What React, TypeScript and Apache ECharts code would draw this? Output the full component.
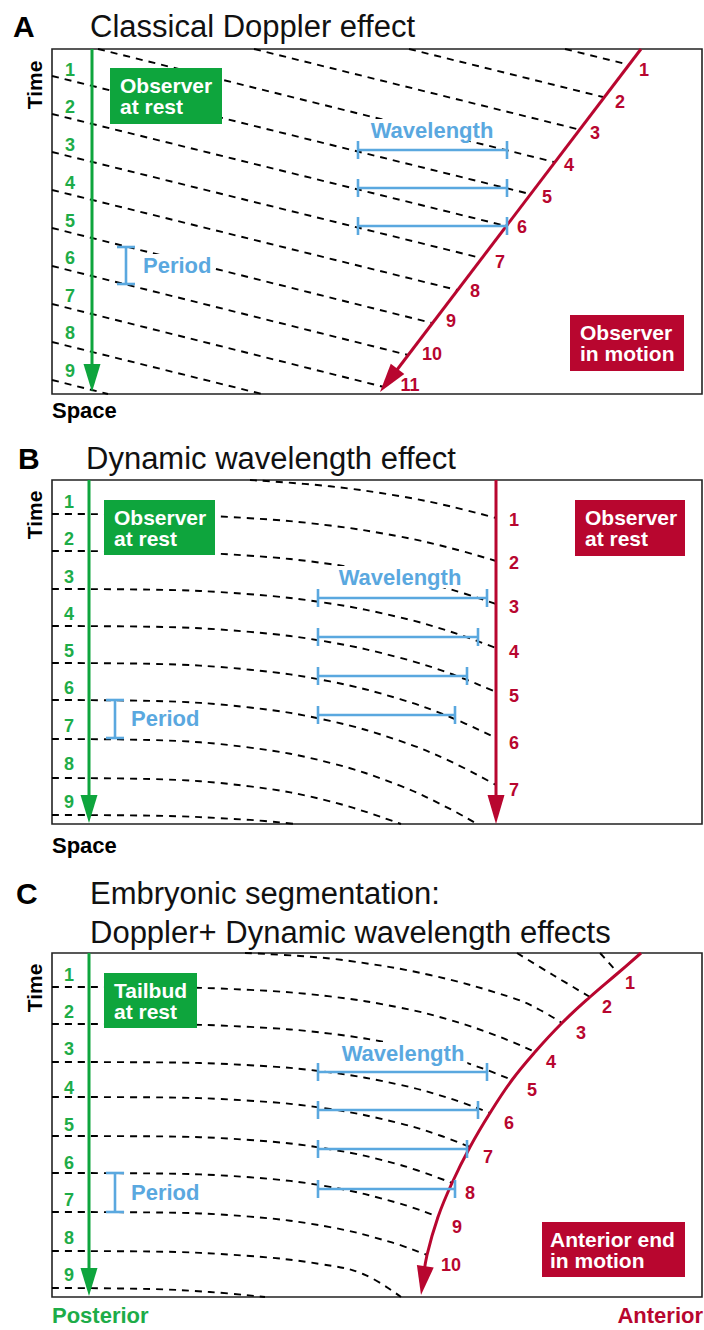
import React, { useEffect, useRef } from "react";
import * as echarts from "echarts";

const FONT = '"Liberation Sans", Arial, Helvetica, sans-serif';
const GREEN = "#0ea53d";
const GREEN_TEXT = "#1dac48";
const RED = "#b8062f";
const BLUE = "#5aa8df";
const INK = "#000000";

// ---------------- Panel A : Classical Doppler effect ----------------
// space (x) / time (y) units, time grows downward
const crestLinesA: number[][][] = [
  [[513, 0], [578, 16]],
  [[357, 0], [551, 48]],
  [[202, 0], [527, 80.5]],
  [[46, 0], [502, 113]],
  [[0, 27], [478, 145]],
  [[0, 65], [454, 177]],
  [[0, 103], [429, 209]],
  [[0, 141], [405, 241]],
  [[0, 179], [380, 274]],
  [[0, 217], [356, 306]],
  [[0, 255], [332, 338]],
  [[0, 293], [210, 345]],
  [[0, 331], [56, 345]],
];
const restPathA = [[40, 0], [40, 332]];
const restTipA = [40, 343];
const moverPathA = [[589, 0], [338, 330]];
const moverTipA = [328, 343];
const restTicksA = ["1", "2", "3", "4", "5", "6", "7", "8", "9"];
const restTickYA = [21, 58, 96, 134, 172, 209, 247, 284, 322];
const moverTicksA = ["1", "2", "3", "4", "5", "6", "7", "8", "9", "10", "11"];
const moverTickPosA = [
  [592, 21], [568, 53], [543, 84], [517, 116], [495, 148], [470, 178],
  [448, 213], [423, 242], [399, 272], [380, 305], [358, 336],
];
const wavelengthBarsA = [[306, 455, 101], [306, 455, 139], [306, 455, 177]];
const periodBarA = [74, 198, 235];
const wavelengthLabelA = [380, 81];
const periodLabelA = [88, 216];

// ---------------- Panel B : Dynamic wavelength effect ----------------
const crestCurvesB: number[][][] = [
  [[198, 0], [278, 6.3], [348, 16.2], [398, 26.3], [444, 38]],
  [[0, 34], [98, 34.5], [198, 38.2], [278, 45.5], [348, 56.6], [398, 67.9], [444, 81]],
  [[0, 71], [98, 71.6], [198, 75.7], [278, 84], [348, 96.5], [398, 109.2], [444, 124]],
  [[0, 109], [98, 109.6], [198, 114.2], [278, 123.5], [348, 137.4], [398, 151.5], [444, 168]],
  [[0, 146], [98, 146.7], [198, 151.9], [278, 162.2], [348, 177.8], [398, 193.5], [444, 212]],
  [[0, 183], [98, 183.8], [198, 189.7], [278, 201.4], [348, 219.1], [398, 237], [444, 258]],
  [[0, 220], [98, 220.9], [198, 227.5], [278, 240.9], [348, 260.9], [398, 281.2], [444, 305]],
  [[0, 259], [98, 260], [198, 267.6], [278, 282.8], [348, 305.7], [398, 328.9], [425, 344]],
  [[0, 298], [98, 299], [198, 306.4], [278, 321.3], [349, 344]],
  [[0, 335], [98, 335.6], [198, 339.9], [243, 344]],
];
const restPathB = [[37, 0], [37, 332]];
const restTipB = [37, 343];
const moverPathB = [[444, 0], [444, 332]];
const moverTipB = [444, 344];
const restTicksB = ["1", "2", "3", "4", "5", "6", "7", "8", "9"];
const restTickYB = [22, 59, 97, 134, 171, 208, 246, 284, 322];
const moverTicksB = ["1", "2", "3", "4", "5", "6", "7"];
const moverTickPosB = [[462, 40], [462, 83], [462, 127], [462, 172], [462, 216], [462, 263], [462, 310]];
const wavelengthBarsB = [[266, 435, 118], [266, 426, 157], [266, 415, 196], [266, 403, 235]];
const periodBarB = [63, 220, 258];
const wavelengthLabelB = [348, 97];
const periodLabelB = [76, 238];

// ---------------- Panel C : Embryonic segmentation ----------------
const crestCurvesC: number[][][] = [
  [[548, 0], [566, 20]],
  [[465, 0], [501, 22], [538, 44]],
  [[193, 0], [248, 3], [298, 8], [378, 22], [461, 45], [488, 57], [510, 70]],
  [[0, 34], [98, 34.2], [198, 36.9], [278, 43.4], [348, 54.6], [398, 67], [448, 84], [483, 99]],
  [[0, 71], [98, 71.2], [198, 73.9], [278, 80.6], [348, 92.1], [398, 104.7], [433, 116.3], [460, 127]],
  [[0, 109], [98, 109.3], [198, 112.2], [278, 119.4], [348, 131.8], [398, 145.5], [438, 160]],
  [[0, 144], [98, 144.3], [198, 147.7], [278, 156], [348, 170.3], [388, 182.5], [418, 194]],
  [[0, 183], [98, 183.3], [198, 187], [278, 196.2], [348, 211.9], [400, 230]],
  [[0, 220], [98, 220.4], [198, 224.3], [278, 233.9], [348, 250.6], [386, 264]],
  [[0, 259], [98, 259.4], [198, 263.6], [278, 274.1], [338, 288.9], [375, 302]],
  [[0, 298], [98, 298.5], [198, 303], [268, 311], [311, 321], [349, 344]],
  [[0, 335], [98, 336], [158, 339], [213, 344]],
];
const restPathC = [[37, 0], [37, 332]];
const restTipC = [37, 343];
const moverPathC = [
  [589, 0], [566, 20], [538, 44], [510, 70], [483, 99], [460, 127],
  [438, 160], [418, 194], [400, 230], [386, 264], [375, 302], [371, 328],
];
const moverTipC = [369, 342];
const restTicksC = ["1", "2", "3", "4", "5", "6", "7", "8", "9"];
const restTickYC = [22, 59, 96, 135, 172, 210, 247, 285, 322];
const moverTicksC = ["1", "2", "3", "4", "5", "6", "7", "8", "9", "10"];
const moverTickPosC = [
  [578, 30], [555, 54], [529, 80], [499, 109], [480, 137],
  [457, 170], [436, 204], [418, 240], [405, 274], [399, 312],
];
const wavelengthBarsC = [[266, 435, 119], [266, 426, 157], [266, 415, 196], [266, 403, 236]];
const periodBarC = [63, 220, 259];
const wavelengthLabelC = [351, 100];
const periodLabelC = [76, 239];

// ---------------- layout ----------------
const BOX_LEFT = 52;
const BOX_WIDTH = 650;
const PANEL_TOPS = [49, 480, 953];
const PANEL_HEIGHTS = [345, 344, 344];

const axisRef = (g: number) => ({ xAxisIndex: g, yAxisIndex: g });

const dashedSeries = (g: number, pts: number[][], smooth: boolean) => ({
  type: "line",
  ...axisRef(g),
  data: pts,
  smooth: smooth ? 0.4 : false,
  symbol: "none",
  silent: true,
  z: 2,
  lineStyle: { color: INK, width: 1.9, type: [7, 6] },
});

const shaftSeries = (g: number, pts: number[][], color: string, width: number, smooth = false) => ({
  type: "line",
  ...axisRef(g),
  data: pts,
  smooth: smooth ? 0.4 : false,
  symbol: "none",
  silent: true,
  z: 4,
  lineStyle: { color, width, cap: "butt" },
});

const headSeries = (g: number, tip: number[], from: number[], color: string, len: number, halfW: number) => ({
  type: "custom",
  ...axisRef(g),
  silent: true,
  z: 5,
  data: [[tip[0], tip[1], from[0], from[1]]],
  encode: { x: [0, 2], y: [1, 3] },
  renderItem: (_p: any, api: any) => {
    const t = api.coord([api.value(0), api.value(1)]);
    const f = api.coord([api.value(2), api.value(3)]);
    const dx = t[0] - f[0];
    const dy = t[1] - f[1];
    const l = Math.hypot(dx, dy) || 1;
    const ux = dx / l;
    const uy = dy / l;
    const bx = t[0] - ux * len;
    const by = t[1] - uy * len;
    return {
      type: "polygon",
      shape: { points: [[t[0], t[1]], [bx - uy * halfW, by + ux * halfW], [bx + uy * halfW, by - ux * halfW]] },
      style: { fill: color },
    };
  },
});

const textSeries = (
  g: number,
  pts: number[][],
  texts: string[],
  color: string,
  size: number,
  align = "center",
  knockout = false
) => ({
  type: "custom",
  ...axisRef(g),
  silent: true,
  z: 6,
  data: pts,
  encode: { x: 0, y: 1 },
  renderItem: (params: any, api: any) => {
    const p = api.coord([api.value(0), api.value(1)]);
    const style: any = {
      text: texts[params.dataIndex],
      fill: color,
      font: `bold ${size}px ${FONT}`,
      align,
      verticalAlign: "middle",
    };
    if (knockout) {
      style.backgroundColor = "#ffffff";
      style.padding = [0, 3, 0, 3];
    }
    return { type: "text", x: p[0], y: p[1], style };
  },
});

const wavelengthSeries = (g: number, bars: number[][]) => ({
  type: "custom",
  ...axisRef(g),
  silent: true,
  z: 5,
  data: bars,
  encode: { x: [0, 1], y: 2 },
  renderItem: (_p: any, api: any) => {
    const a = api.coord([api.value(0), api.value(2)]);
    const b = api.coord([api.value(1), api.value(2)]);
    const st = { stroke: BLUE, lineWidth: 2.6 };
    return {
      type: "group",
      children: [
        { type: "line", shape: { x1: a[0], y1: a[1], x2: b[0], y2: b[1] }, style: st },
        { type: "line", shape: { x1: a[0], y1: a[1] - 9, x2: a[0], y2: a[1] + 9 }, style: st },
        { type: "line", shape: { x1: b[0], y1: b[1] - 9, x2: b[0], y2: b[1] + 9 }, style: st },
      ],
    };
  },
});

const periodSeries = (g: number, bar: number[]) => ({
  type: "custom",
  ...axisRef(g),
  silent: true,
  z: 5,
  data: [bar],
  encode: { x: 0, y: [1, 2] },
  renderItem: (_p: any, api: any) => {
    const a = api.coord([api.value(0), api.value(1)]);
    const b = api.coord([api.value(0), api.value(2)]);
    const st = { stroke: BLUE, lineWidth: 2.6 };
    return {
      type: "group",
      children: [
        { type: "line", shape: { x1: a[0], y1: a[1], x2: b[0], y2: b[1] }, style: st },
        { type: "line", shape: { x1: a[0] - 9, y1: a[1], x2: a[0] + 9, y2: a[1] }, style: st },
        { type: "line", shape: { x1: b[0] - 9, y1: b[1], x2: b[0] + 9, y2: b[1] }, style: st },
      ],
    };
  },
});

function buildOption() {
  const series: any[] = [];
  const panels = [
    {
      crests: crestLinesA, curved: false,
      restPath: restPathA, restTip: restTipA, moverPath: moverPathA, moverTip: moverTipA, moverCurved: false,
      restTicks: restTicksA, restY: restTickYA, restX: 18, moverTicks: moverTicksA, moverPos: moverTickPosA,
      bars: wavelengthBarsA, period: periodBarA, wl: wavelengthLabelA, pl: periodLabelA,
    },
    {
      crests: crestCurvesB, curved: true,
      restPath: restPathB, restTip: restTipB, moverPath: moverPathB, moverTip: moverTipB, moverCurved: false,
      restTicks: restTicksB, restY: restTickYB, restX: 17, moverTicks: moverTicksB, moverPos: moverTickPosB,
      bars: wavelengthBarsB, period: periodBarB, wl: wavelengthLabelB, pl: periodLabelB,
    },
    {
      crests: crestCurvesC, curved: true,
      restPath: restPathC, restTip: restTipC, moverPath: moverPathC, moverTip: moverTipC, moverCurved: true,
      restTicks: restTicksC, restY: restTickYC, restX: 17, moverTicks: moverTicksC, moverPos: moverTickPosC,
      bars: wavelengthBarsC, period: periodBarC, wl: wavelengthLabelC, pl: periodLabelC,
    },
  ];

  panels.forEach((p, g) => {
    p.crests.forEach((c) => series.push(dashedSeries(g, c, p.curved && c.length > 2)));
    series.push(shaftSeries(g, p.restPath, GREEN, 3));
    series.push(headSeries(g, p.restTip, p.restPath[0], GREEN, 28, 8.5));
    series.push(shaftSeries(g, p.moverPath, RED, 3, p.moverCurved));
    const from = p.moverCurved ? p.moverPath[p.moverPath.length - 2] : p.moverPath[0];
    series.push(headSeries(g, p.moverTip, from, RED, 29, 8.5));
    series.push(textSeries(g, p.restY.map((y) => [p.restX, y]), p.restTicks, GREEN_TEXT, 18));
    series.push(textSeries(g, p.moverPos, p.moverTicks, RED, 18));
    series.push(wavelengthSeries(g, p.bars));
    series.push(periodSeries(g, p.period));
    series.push(textSeries(g, [p.wl], ["Wavelength"], BLUE, 22, "center", true));
    series.push(textSeries(g, [p.pl], ["Period"], BLUE, 22, "left", true));
  });

  const txt = (x: number, y: number, text: string, size: number, weight: string, fill: string, align = "left", rotation = 0) => ({
    type: "text",
    x,
    y,
    rotation,
    silent: true,
    z: 100,
    style: { text, fill, font: `${weight} ${size}px ${FONT}`, align, verticalAlign: "middle" },
  });
  const box = (x: number, y: number, w: number, h: number, fill: string, text: string, tx: number) => ({
    type: "group",
    silent: true,
    z: 100,
    children: [
      { type: "rect", z: 100, shape: { x, y, width: w, height: h }, style: { fill } },
      {
        type: "text",
        z: 101,
        x: tx,
        y: y + h / 2,
        style: { text, fill: "#fff", font: `bold 21px ${FONT}`, align: "left", verticalAlign: "middle", lineHeight: 21 },
      },
    ],
  });

  const graphic = [
    txt(13, 26, "A", 30, "bold", "#000"),
    txt(90, 26, "Classical Doppler effect", 31, "normal", "#111"),
    txt(18, 458, "B", 30, "bold", "#000"),
    txt(86, 458, "Dynamic wavelength effect", 31, "normal", "#111"),
    txt(16, 893, "C", 30, "bold", "#000"),
    txt(90, 893, "Embryonic segmentation:", 31, "normal", "#111"),
    txt(90, 932, "Doppler+ Dynamic wavelength effects", 31, "normal", "#111"),
    txt(34, 85, "Time", 21, "bold", "#000", "center", Math.PI / 2),
    txt(34, 515, "Time", 21, "bold", "#000", "center", Math.PI / 2),
    txt(34, 988, "Time", 21, "bold", "#000", "center", Math.PI / 2),
    txt(52, 410, "Space", 22, "bold", "#000"),
    txt(52, 845, "Space", 22, "bold", "#000"),
    txt(52, 1315, "Posterior", 22, "bold", GREEN_TEXT),
    txt(703, 1315, "Anterior", 22, "bold", RED, "right"),
    box(110, 68, 112, 56, GREEN, "Observer\nat rest", 120),
    box(570, 315, 114, 56, RED, "Observer\nin motion", 580),
    box(104, 500, 111, 55, GREEN, "Observer\nat rest", 114),
    box(575, 500, 110, 56, RED, "Observer\nat rest", 585),
    box(104, 973, 93, 55, GREEN, "Tailbud\nat rest", 114),
    box(542, 1222, 143, 55, RED, "Anterior end\nin motion", 550),
  ];

  return {
    animation: false,
    backgroundColor: "#ffffff",
    grid: PANEL_TOPS.map((top, i) => ({
      left: BOX_LEFT,
      top,
      width: BOX_WIDTH,
      height: PANEL_HEIGHTS[i],
      show: true,
      borderColor: "#222",
      borderWidth: 1.6,
      backgroundColor: "transparent",
      containLabel: false,
    })),
    xAxis: PANEL_TOPS.map((_, i) => ({ type: "value", gridIndex: i, min: 0, max: BOX_WIDTH, show: false })),
    yAxis: PANEL_TOPS.map((_, i) => ({
      type: "value",
      gridIndex: i,
      min: 0,
      max: PANEL_HEIGHTS[i],
      inverse: true,
      show: false,
    })),
    series,
    graphic,
  };
}

export default function App() {
  const ref = useRef<HTMLDivElement>(null);
  useEffect(() => {
    if (!ref.current) return;
    const chart = echarts.init(ref.current, null, { renderer: "svg" });
    chart.setOption(buildOption() as any);
    return () => chart.dispose();
  }, []);
  return (
    <div
      ref={ref}
      style={{ position: "absolute", left: 0, top: 0, width: 704, height: 1330, background: "#fff" }}
    />
  );
}
